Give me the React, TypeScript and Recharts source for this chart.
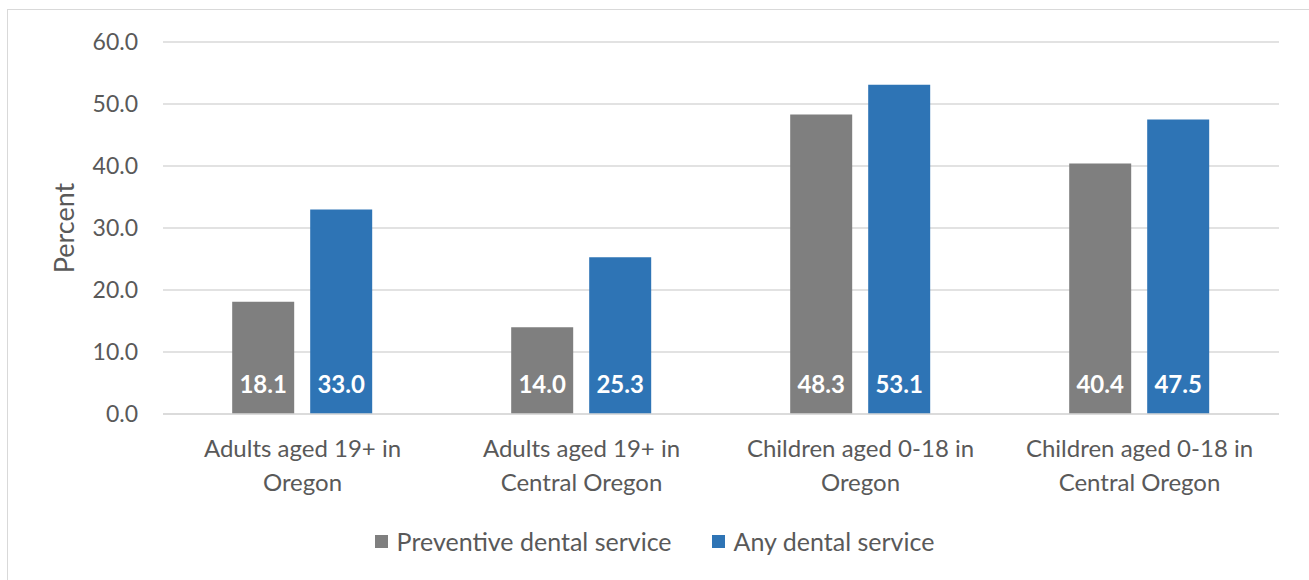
import React from "react";
import { BarChart, Bar, XAxis, YAxis, CartesianGrid, Legend, LabelList } from "recharts";

const categories = [
  "Adults aged 19+ in|Oregon",
  "Adults aged 19+ in|Central Oregon",
  "Children aged 0-18 in|Oregon",
  "Children aged 0-18 in|Central Oregon",
];
const preventive = [18.1, 14.0, 48.3, 40.4];
const anyDental = [33.0, 25.3, 53.1, 47.5];
const yTicks = [0, 10, 20, 30, 40, 50, 60];
const seriesNames = ["Preventive dental service", "Any dental service"];

const data = categories.map((c, i) => ({ name: c, preventive: preventive[i], any: anyDental[i] }));

const FONT = "Lato, 'Open Sans', sans-serif";
const TEXT = "#595959";
const GRAY = "#7f7f7f";
const BLUE = "#2e74b5";

const XTick = (props: any) => {
  const { x, y, payload } = props;
  const lines = String(payload.value).split("|");
  return (
    <g transform={`translate(${x},${y})`}>
      {lines.map((l, i) => (
        <text key={i} x={0} y={35 + i * 34} textAnchor="middle" fill={TEXT} fontSize={24} fontFamily={FONT}>
          {l}
        </text>
      ))}
    </g>
  );
};

const LegendContent = () => (
  <div style={{ display: "flex", justifyContent: "center", alignItems: "center", fontFamily: FONT, fontSize: 25, color: TEXT }}>
    {[GRAY, BLUE].map((col, i) => (
      <div key={i} style={{ display: "flex", alignItems: "center", marginRight: i === 0 ? 40 : 0 }}>
        <span style={{ display: "inline-block", width: 13, height: 13, background: col, marginRight: 9 }} />
        <span>{seriesNames[i]}</span>
      </div>
    ))}
  </div>
);

export default function App() {
  return (
    <div style={{ position: "absolute", left: 0, top: 0, width: 1309, height: 580, background: "#fff", overflow: "hidden" }}>
      <div style={{ position: "absolute", left: 7, top: 9, width: 1320, height: 600, border: "1.5px solid #d9d9d9" }} />
      <BarChart
        width={1309}
        height={580}
        data={data}
        margin={{ top: 42, right: 30, left: 0, bottom: 66 }}
        barCategoryGap="24.8%"
        barGap={16}
      >
        <CartesianGrid vertical={false} stroke="#d9d9d9" strokeWidth={1.5} />
        <XAxis
          dataKey="name"
          height={100}
          tickLine={false}
          axisLine={{ stroke: "#d9d9d9", strokeWidth: 1.5 }}
          tick={<XTick />}
          interval={0}
        />
        <YAxis
          width={163}
          domain={[0, 60]}
          ticks={yTicks}
          tickFormatter={(v: number) => v.toFixed(1)}
          axisLine={false}
          tickLine={false}
          tickSize={6}
          tickMargin={19}
          tick={{ fill: TEXT, fontSize: 23, fontFamily: FONT }}
          label={{
            value: "Percent",
            angle: -90,
            position: "insideLeft",
            offset: 0,
            content: (p: any) => {
              const vb = p.viewBox;
              const cy = vb.y + vb.height / 2;
              return (
                <text x={63} y={cy} transform={`rotate(-90, 63, ${cy})`} textAnchor="middle" dominantBaseline="central" fill={TEXT} fontSize={27} fontFamily={FONT}>
                  Percent
                </text>
              );
            },
          }}
        />
        <Legend
          layout="horizontal"
          verticalAlign="middle"
          align="center"
          wrapperStyle={{ position: "absolute", top: 526, left: 0, width: 1309 }}
          content={<LegendContent />}
        />
        <Bar dataKey="preventive" name={seriesNames[0]} fill={GRAY} isAnimationActive={false}>
          <LabelList
            dataKey="preventive"
            position="insideBottom"
            offset={21}
            formatter={(v: any) => Number(v).toFixed(1)}
            fill="#ffffff"
            fontSize={24}
            fontWeight="bold"
            fontFamily={FONT}
          />
        </Bar>
        <Bar dataKey="any" name={seriesNames[1]} fill={BLUE} isAnimationActive={false}>
          <LabelList
            dataKey="any"
            position="insideBottom"
            offset={21}
            formatter={(v: any) => Number(v).toFixed(1)}
            fill="#ffffff"
            fontSize={24}
            fontWeight="bold"
            fontFamily={FONT}
          />
        </Bar>
      </BarChart>
    </div>
  );
}
